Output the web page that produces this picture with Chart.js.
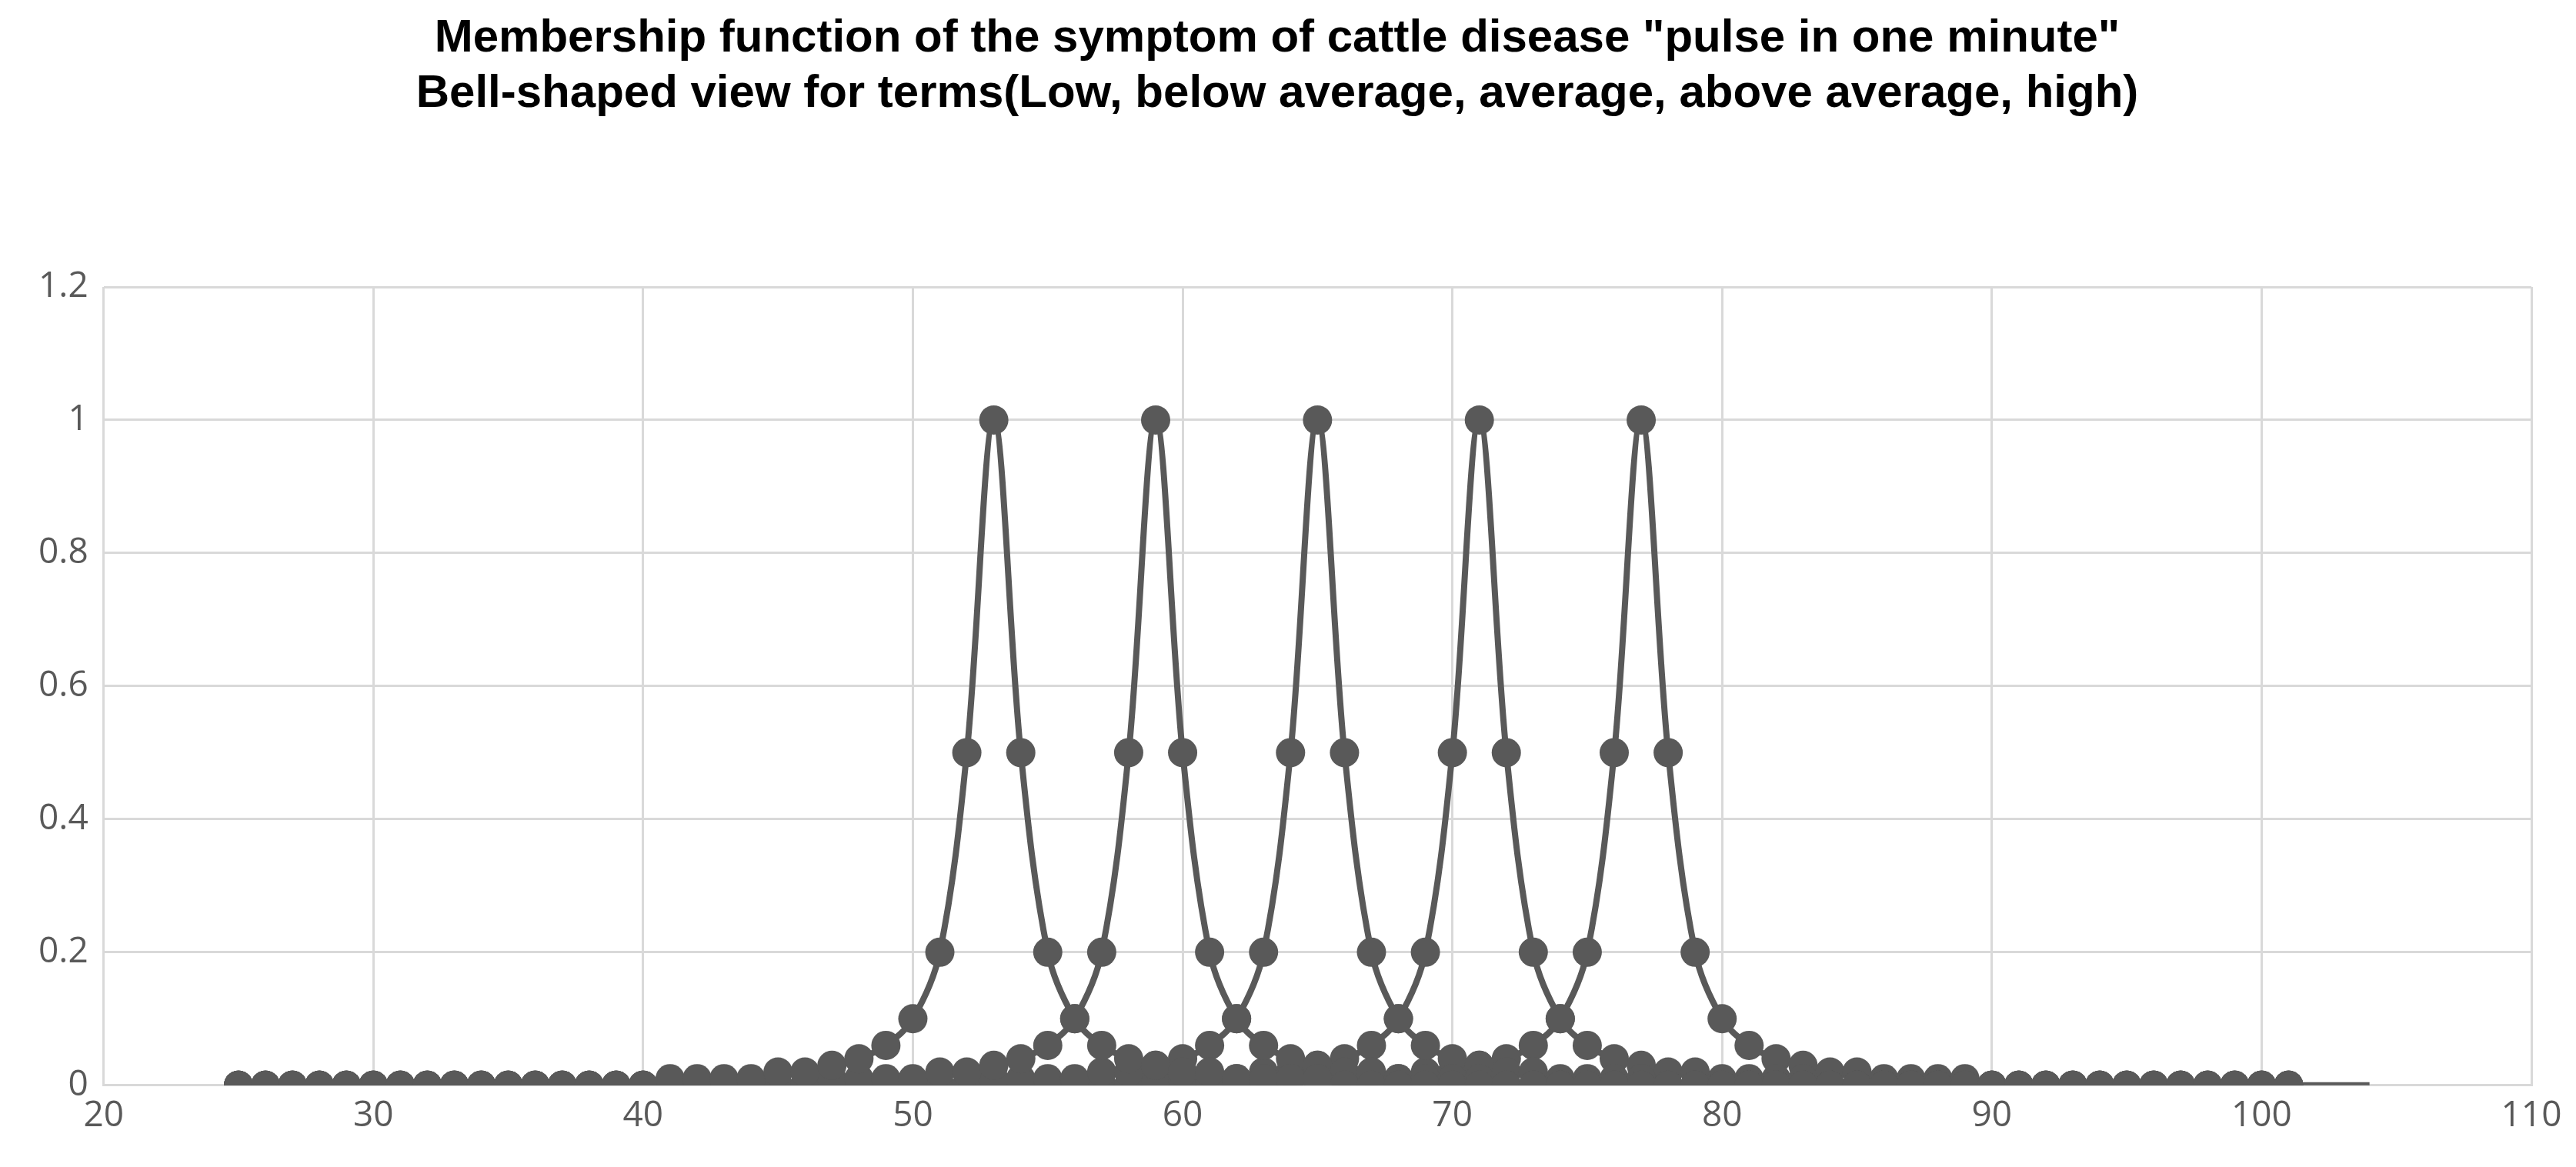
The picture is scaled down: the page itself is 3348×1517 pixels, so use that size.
<!DOCTYPE html>
<html>
<head>
<meta charset="utf-8">
<script src="https://cdn.jsdelivr.net/npm/chart.js@4"></script>
<style>
  html, body { margin: 0; padding: 0; background: #fff; }
  #wrap { width: 3348px; height: 1517px; }
</style>
</head>
<body>
<div id="wrap"><canvas id="chart"></canvas></div>
<script>
const titleLines = [
    'Membership function of the symptom of cattle disease "pulse in one minute"',
    'Bell-shaped view for terms(Low, below average, average, above average, high)'
];
const pulse = [25,26,27,28,29,30,31,32,33,34,35,36,37,38,39,40,41,42,43,44,45,46,47,48,49,50,
    51,52,53,54,55,56,57,58,59,60,61,62,63,64,65,66,67,68,69,70,71,72,73,74,75,76,77,78,79,80,
    81,82,83,84,85,86,87,88,89,90,91,92,93,94,95,96,97,98,99,100,101];
const low = [0,0,0,0,0,0,0,0,0,0,0,0,0,0,0,0,
    .01,.01,.01,.01,.02,.02,.03,.04,.06,.1,.2,.5, 1, .5,.2,.1,.06,.04,.03,.02,.02,.01,.01,.01,.01,
    0,0,0,0,0,0,0,0,0,0,0,0,0,0,0,0,0,0,0,0,0,0,0,0,0,0,0,0,0,0,0,0,0,0,0,0];
const belowAvg = [0,0,0,0,0,0,0,0,0,0,0,0,0,0,0,0,0,0,0,0,0,0,
    .01,.01,.01,.01,.02,.02,.03,.04,.06,.1,.2,.5, 1, .5,.2,.1,.06,.04,.03,.02,.02,.01,.01,.01,.01,
    0,0,0,0,0,0,0,0,0,0,0,0,0,0,0,0,0,0,0,0,0,0,0,0,0,0,0,0,0,0];
const average = [0,0,0,0,0,0,0,0,0,0,0,0,0,0,0,0,0,0,0,0,0,0,0,0,0,0,0,0,
    .01,.01,.01,.01,.02,.02,.03,.04,.06,.1,.2,.5, 1, .5,.2,.1,.06,.04,.03,.02,.02,.01,.01,.01,.01,
    0,0,0,0,0,0,0,0,0,0,0,0,0,0,0,0,0,0,0,0,0,0,0,0];
const aboveAvg = [0,0,0,0,0,0,0,0,0,0,0,0,0,0,0,0,0,0,0,0,0,0,0,0,0,0,0,0,0,0,0,0,0,0,
    .01,.01,.01,.01,.02,.02,.03,.04,.06,.1,.2,.5, 1, .5,.2,.1,.06,.04,.03,.02,.02,.01,.01,.01,.01,
    0,0,0,0,0,0,0,0,0,0,0,0,0,0,0,0,0,0];
const high = [0,0,0,0,0,0,0,0,0,0,0,0,0,0,0,0,0,0,0,0,0,0,0,0,0,0,0,0,0,0,0,0,0,0,0,0,0,0,0,0,
    .01,.01,.01,.01,.02,.02,.03,.04,.06,.1,.2,.5, 1, .5,.2,.1,.06,.04,.03,.02,.02,.01,.01,.01,.01,
    0,0,0,0,0,0,0,0,0,0,0,0];
// the last line runs on past the markers to 104 without a dot
const tailX = [104], tailY = [0];

const grey = '#595959';

function makeSet(ys, extraX, extraY) {
    const pts = pulse.map((x, i) => ({ x: x, y: ys[i] }));
    const radii = pts.map(() => 19);
    (extraX || []).forEach((x, i) => { pts.push({ x: x, y: extraY[i] }); radii.push(0); });
    return {
        data: pts, showLine: true, borderColor: grey, backgroundColor: grey,
        borderWidth: 8, pointRadius: radii, pointBorderWidth: 0, tension: 0.35
    };
}

new Chart(document.getElementById('chart'), {
    type: 'scatter',
    data: {
        datasets: [makeSet(low), makeSet(belowAvg), makeSet(average), makeSet(aboveAvg), makeSet(high, tailX, tailY)]
    },
    options: {
        responsive: true, maintainAspectRatio: false, animation: false,
        layout: { padding: { left: 30, right: 58, top: 14, bottom: 27 } },
        plugins: {
            legend: { display: false },
            tooltip: { enabled: false },
            title: {
                display: true, text: titleLines, color: '#000',
                font: { family: 'Liberation Sans', size: 60, weight: 'bold' },
                lineHeight: 1.2, padding: { top: 0, bottom: 215 }
            }
        },
        scales: {
            x: {
                min: 20, max: 110,
                ticks: { stepSize: 10, color: grey, padding: 12, font: { family: 'Open Sans', size: 46 } },
                grid: { color: '#d9d9d9', lineWidth: 3, drawTicks: false },
                border: { color: '#d9d9d9', width: 3 }
            },
            y: {
                min: 0, max: 1.2,
                ticks: {
                    stepSize: 0.2, color: grey, padding: 20, font: { family: 'Open Sans', size: 46 },
                    callback: v => String(Math.round(v * 10) / 10)
                },
                grid: { color: '#d9d9d9', lineWidth: 3, drawTicks: false },
                border: { display: false }
            }
        }
    }
});
</script>
</body>
</html>
